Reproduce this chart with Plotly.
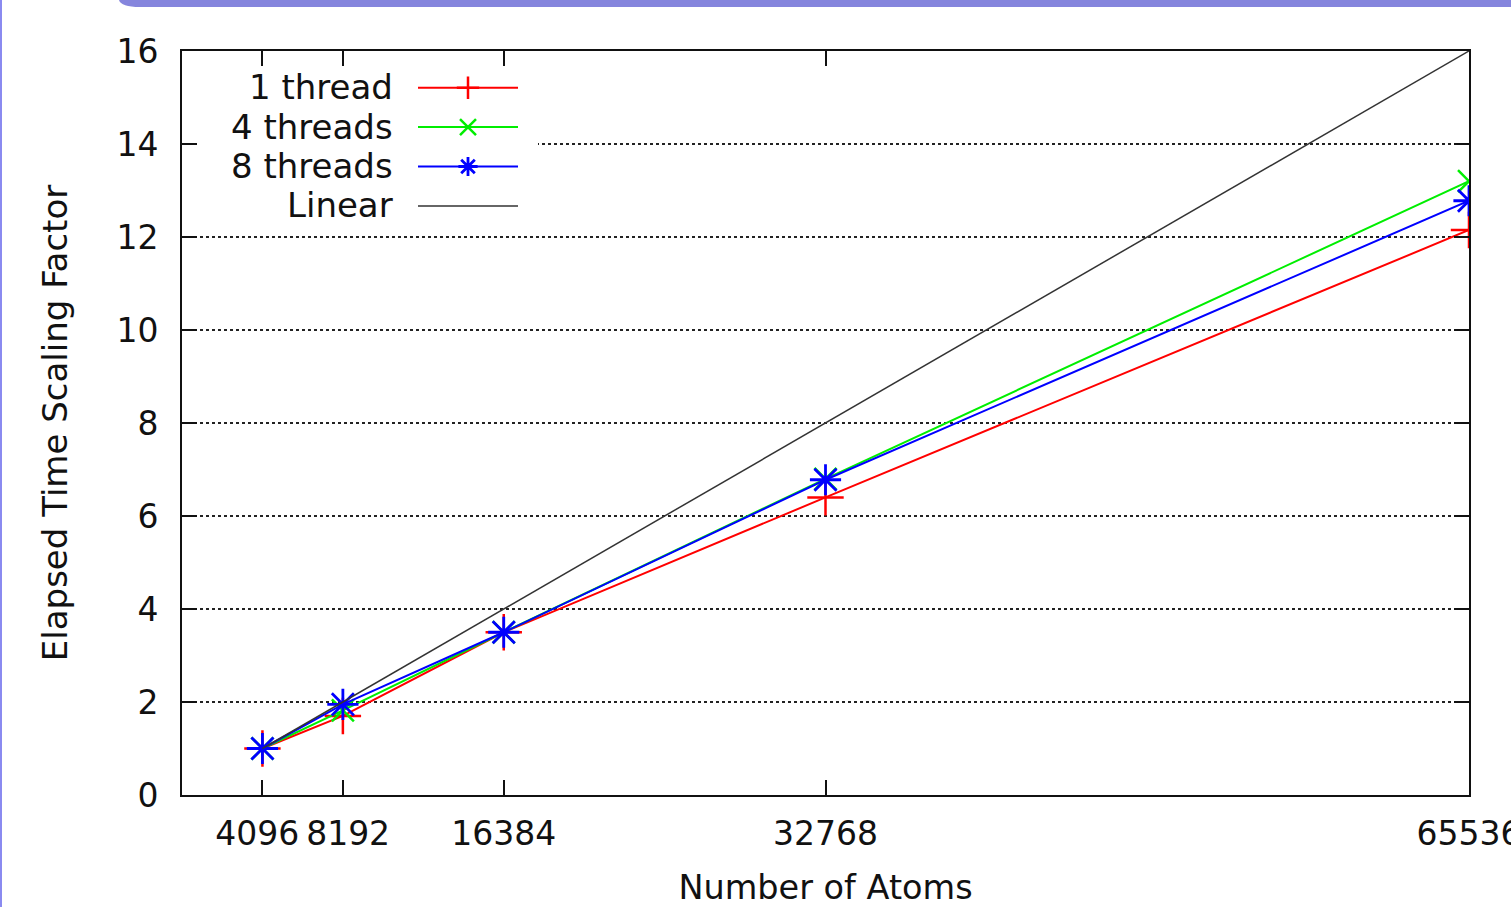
import plotly.graph_objects as go

atoms = [4096, 8192, 16384, 32768, 65536]
tick_labels = ["4096", "8192", "16384", "32768", "65536"]
one_thread = [1.0, 1.7, 3.5, 6.4, 12.15]
four_threads = [1.0, 1.82, 3.5, 6.8, 13.2]
eight_threads = [1.0, 1.95, 3.5, 6.78, 12.78]
linear = [1, 2, 4, 8, 16]
series_names = ["1 thread", "4 threads", "8 threads", "Linear"]

FONT = "DejaVu Sans"
W, H = 1511, 907
L, R, T, B = 182, 42, 51, 112
PW, PH = W - L - R, H - T - B


def px(xp):
    return (xp - L) / PW


def py(yp):
    return (H - B - yp) / PH


# small non-breaking pads keep the two crowded first labels apart
shown_ticks = [tick_labels[0] + "\u00a0", "\u00a0" + tick_labels[1]] + tick_labels[2:]

fig = go.Figure()
fig.add_trace(go.Scatter(x=atoms, y=one_thread, mode="lines+markers", name=" ",
                         line=dict(color="#ff0000", width=2),
                         marker=dict(symbol="cross-thin-open", size=26,
                                     line=dict(color="#ff0000", width=2.5))))
fig.add_trace(go.Scatter(x=atoms, y=four_threads, mode="lines+markers", name=" ",
                         line=dict(color="#00ee00", width=2),
                         marker=dict(symbol="x-thin-open", size=22,
                                     line=dict(color="#00ee00", width=2.5))))
fig.add_trace(go.Scatter(x=atoms, y=eight_threads, mode="lines+markers", name=" ",
                         line=dict(color="#0000ff", width=2),
                         marker=dict(symbol="asterisk-open", size=26,
                                     line=dict(color="#0000ff", width=2.8))))
fig.add_trace(go.Scatter(x=atoms, y=linear, mode="lines", name=" ",
                         line=dict(color="#333333", width=1.5)))

# legend labels (gnuplot style: text on the left of the sample)
label_rows = [87, 127, 166, 205]
annotations = []
for name, yy in zip(series_names, label_rows):
    annotations.append(dict(xref="paper", yref="paper", x=px(395), y=py(yy),
                            xanchor="right", yanchor="middle", showarrow=False,
                            text=name, font=dict(family=FONT, size=34, color="#111111")))

shapes = [
    # opaque key box (hides the grid behind the legend, like gnuplot)
    dict(type="rect", xref="paper", yref="paper", x0=px(199), x1=px(538),
         y0=py(226), y1=py(68), fillcolor="white", line=dict(width=0), layer="above"),
    # left border of the slide frame
    dict(type="rect", xref="paper", yref="paper", x0=px(0), x1=px(2), y0=py(907), y1=py(0),
         fillcolor="#8a8af0", line=dict(width=0), layer="above"),
    # top band of the slide frame (rounded bottom-left corner)
    dict(type="path", xref="paper", yref="paper",
         path=(f"M {px(119)},{py(0)} Q {px(121)},{py(7)} {px(140)},{py(7)} "
               f"L {px(1511)},{py(7)} L {px(1511)},{py(0)} Z"),
         fillcolor="#8585dd", line=dict(width=0), layer="above"),
]

fig.update_layout(
    width=W, height=H,
    margin=dict(l=L, r=R, t=T, b=B, pad=0, autoexpand=False),
    paper_bgcolor="white", plot_bgcolor="white",
    font=dict(family=FONT, size=33, color="#111111"),
    showlegend=True,
    legend=dict(x=px(413), y=py(63), xanchor="left", yanchor="top",
                bgcolor="rgba(0,0,0,0)", borderwidth=0, itemwidth=100,
                font=dict(family=FONT, size=28), tracegroupgap=0),
    annotations=annotations,
    shapes=shapes,
)
fig.update_xaxes(range=[0, 65536], tickvals=atoms, ticktext=shown_ticks, tickangle=0,
                 ticks="inside", ticklen=15, tickwidth=2, tickcolor="#111111",
                 showline=True, linecolor="#111111", linewidth=2, mirror="ticks",
                 showgrid=False, zeroline=False, ticklabelstandoff=8, automargin=False,
                 ticklabeloverflow="allow",
                 tickfont=dict(family=FONT, size=33),
                 title=dict(text="Number of Atoms", standoff=53,
                            font=dict(family=FONT, size=33.5)))
fig.update_yaxes(range=[0, 16], dtick=2, ticks="inside", ticklen=15, tickwidth=2,
                 tickcolor="#111111", automargin=False,
                 showline=True, linecolor="#111111", linewidth=2, mirror="ticks",
                 showgrid=True, gridcolor="#222222", gridwidth=2, griddash="dot",
                 zeroline=False, ticklabelstandoff=15,
                 tickfont=dict(family=FONT, size=33),
                 title=dict(text="Elapsed Time Scaling Factor", standoff=39,
                            font=dict(family=FONT, size=34)))

fig.write_html("out.html", config={"displayModeBar": False},
               post_script="document.body.style.margin='0px';")
